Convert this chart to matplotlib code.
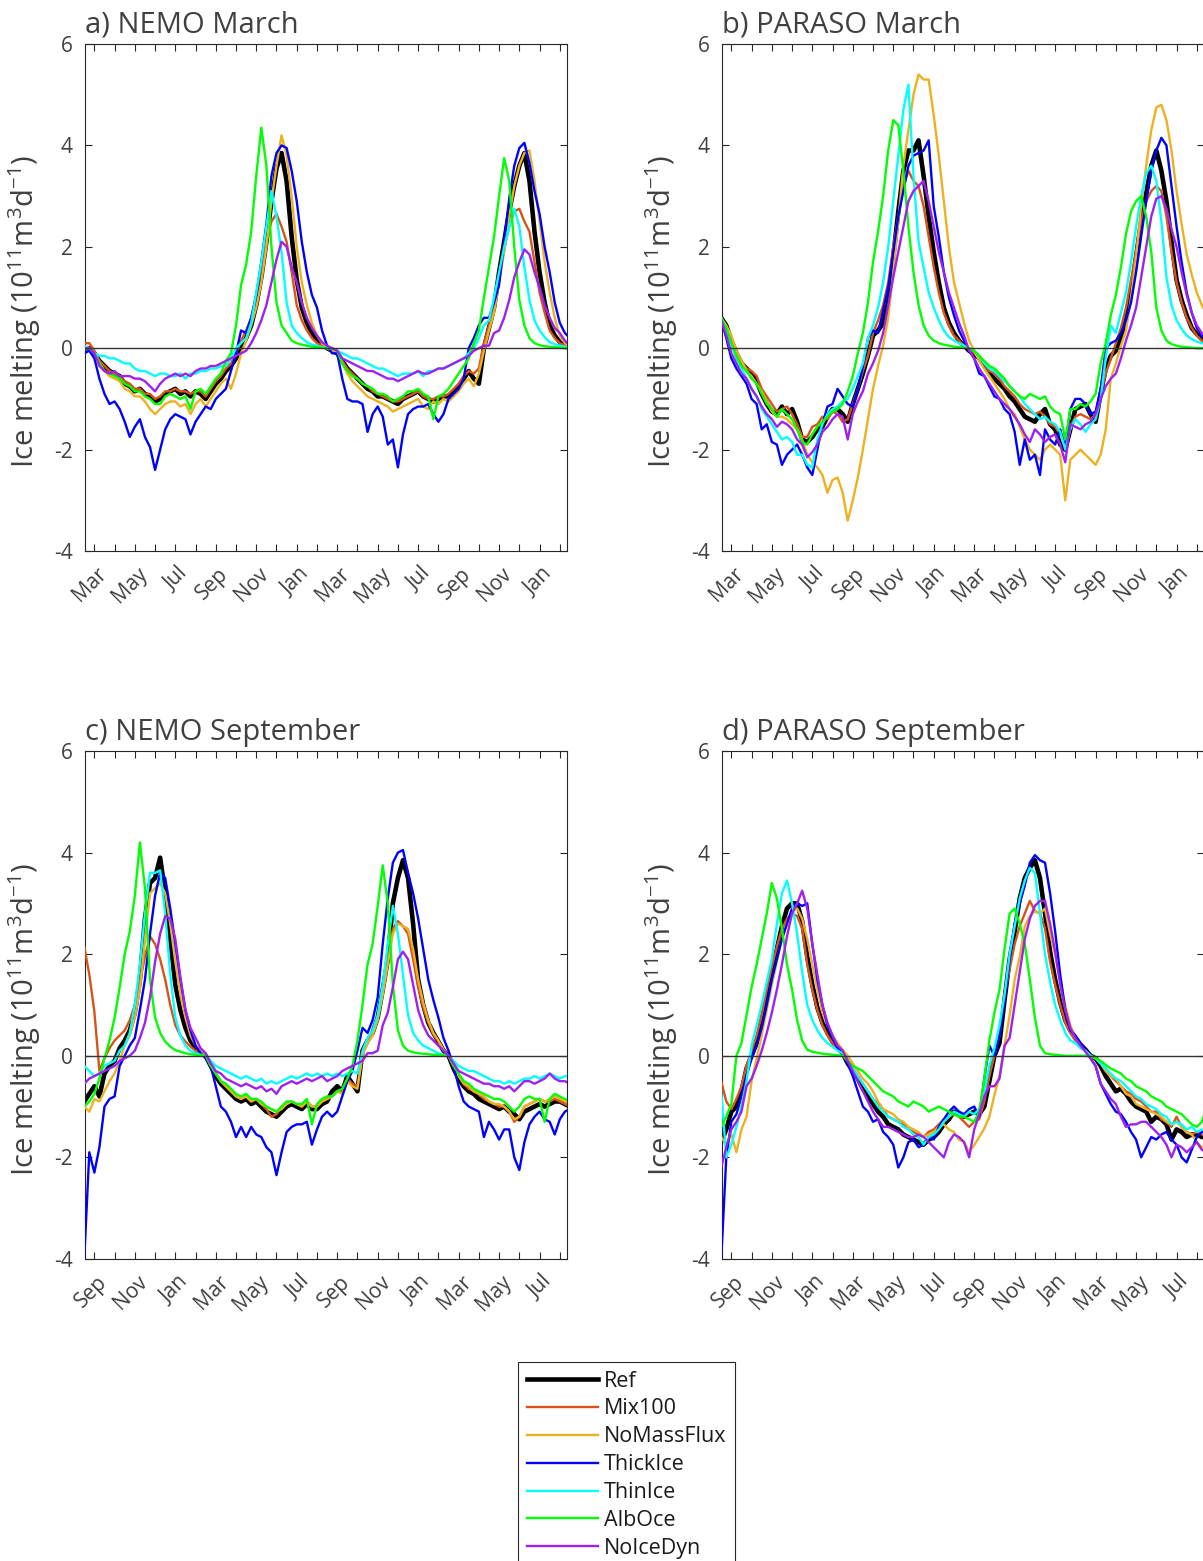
import numpy as np
import matplotlib.pyplot as plt
from matplotlib.transforms import ScaledTranslation

plt.rcParams['font.family'] = ['Open Sans', 'DejaVu Sans']
plt.rcParams['mathtext.default'] = 'regular'
plt.rcParams['axes.unicode_minus'] = False

runs = ["Ref", "Mix100", "NoMassFlux", "ThickIce", "ThinIce", "AlbOce", "NoIceDyn"]
colors = ["black", "#D95319", "#EDB120", "#0000FF", "#00FFFF", "#00FF00", "#A020F0"]
widths = [3.3, 1.7, 1.7, 1.7, 1.7, 1.7, 1.7]

march_labels = ["Mar", "May", "Jul", "Sep", "Nov", "Jan"] * 2
sept_labels = ["Sep", "Nov", "Jan", "Mar", "May", "Jul"] * 2

# values every quarter month, starting half a month before the first tick
# ---- a) NEMO March
a_ref = [0.0, 0.0, -0.1, -0.25, -0.35, -0.45, -0.5, -0.55, -0.7, -0.75, -0.85, -0.8, -0.9,
         -0.95, -1.05, -1.0, -0.9, -0.85, -0.8, -0.9, -0.85, -0.95, -0.85, -0.9, -1.0, -0.85,
         -0.7, -0.6, -0.45, -0.35, -0.2, 0.0, 0.2, 0.45, 0.85, 1.4, 2.1, 2.9, 3.55,
         3.85, 3.3, 2.2, 1.35, 0.8, 0.5, 0.3, 0.18, 0.08, 0.0,
         -0.05, -0.1, -0.25, -0.4, -0.5, -0.6, -0.7, -0.8, -0.85, -0.95, -0.95, -1.0,
         -1.05, -1.1, -1.0, -0.95, -0.9, -0.85, -0.95, -1.0, -1.05, -1.0, -0.95, -0.95,
         -0.85, -0.75, -0.6, -0.45, -0.6, -0.7, 0.0, 0.4, 0.8, 1.5, 2.1, 2.7,
         3.2, 3.6, 3.85, 3.3, 2.3, 1.5, 0.9, 0.45, 0.25, 0.12, 0.05, 0.0]
a_mix = [0.1, 0.1, -0.05, -0.25, -0.35, -0.45, -0.5, -0.55, -0.65, -0.7, -0.8, -0.8, -0.9,
         -0.9, -1.0, -0.95, -0.85, -0.85, -0.8, -0.85, -0.85, -0.9, -0.85, -0.85, -0.95, -0.8,
         -0.65, -0.55, -0.4, -0.3, -0.1, 0.15, 0.35, 0.6, 1.05, 1.6, 2.1, 2.5, 2.65,
         2.4, 2.1, 1.5, 0.85, 0.55, 0.35, 0.2, 0.1, 0.05, 0.0,
         -0.05, -0.1, -0.25, -0.4, -0.5, -0.6, -0.7, -0.75, -0.85, -0.9, -0.95, -1.0,
         -1.05, -1.05, -1.0, -0.95, -0.9, -0.85, -0.95, -1.0, -1.0, -0.95, -0.95, -0.9,
         -0.8, -0.7, -0.55, -0.45, -0.5, -0.4, 0.1, 0.45, 0.8, 1.4, 1.95, 2.4,
         2.7, 2.75, 2.5, 2.3, 1.7, 1.1, 0.7, 0.35, 0.2, 0.1, 0.05, 0.0]
a_nmf = [0.05, 0.0, -0.1, -0.3, -0.45, -0.55, -0.6, -0.65, -0.8, -0.85, -0.95, -0.95, -1.05,
         -1.2, -1.3, -1.2, -1.1, -1.05, -1.05, -1.15, -1.1, -1.3, -1.1, -1.0, -1.15, -1.0,
         -0.85, -0.7, -0.6, -0.8, -0.5, -0.1, 0.15, 0.45, 0.8, 1.3, 2.0, 2.9, 3.6,
         4.2, 3.8, 3.0, 2.0, 1.3, 0.85, 0.5, 0.25, 0.1, 0.0,
         -0.05, -0.1, -0.3, -0.5, -0.65, -0.75, -0.85, -0.95, -1.0, -1.05, -1.1, -1.15,
         -1.25, -1.2, -1.15, -1.1, -1.05, -1.0, -1.15, -1.2, -1.05, -1.1, -1.0, -1.05,
         -0.95, -0.85, -0.7, -0.6, -0.75, -0.5, -0.05, 0.35, 0.7, 1.3, 1.9, 2.6,
         3.2, 3.6, 3.85, 3.9, 3.3, 2.5, 1.7, 1.1, 0.6, 0.25, 0.1, 0.02]
a_thick = [-0.1, -0.05, -0.2, -0.6, -0.9, -1.1, -1.05, -1.2, -1.45, -1.75, -1.55, -1.4, -1.75,
           -1.95, -2.4, -2.0, -1.6, -1.4, -1.3, -1.35, -1.4, -1.7, -1.45, -1.3, -1.15, -1.2,
           -1.0, -0.9, -0.8, -0.45, -0.1, 0.35, 0.3, 0.6, 1.05, 1.7, 2.45, 3.4, 3.85,
           4.0, 3.95, 3.5, 2.9, 2.1, 1.5, 1.05, 0.8, 0.35, 0.05,
           -0.1, -0.1, -0.6, -1.0, -1.05, -1.05, -1.1, -1.65, -1.3, -1.15, -1.35, -1.9,
           -1.8, -2.35, -1.7, -1.3, -1.2, -1.15, -1.15, -1.1, -1.3, -1.45, -1.3, -1.0,
           -0.9, -0.8, -0.6, 0.0, 0.2, 0.45, 0.6, 0.6, 0.9, 1.25, 2.1, 2.95,
           3.6, 3.95, 4.05, 3.65, 3.1, 2.65, 2.0, 1.5, 0.9, 0.5, 0.3, 0.2]
a_thin = [0.05, 0.0, -0.1, -0.15, -0.15, -0.2, -0.2, -0.25, -0.3, -0.3, -0.4, -0.45, -0.45,
          -0.5, -0.55, -0.5, -0.5, -0.55, -0.55, -0.5, -0.6, -0.5, -0.5, -0.45, -0.45, -0.4,
          -0.4, -0.35, -0.35, -0.2, 0.0, 0.1, 0.2, 0.5, 1.1, 1.7, 2.4, 3.1, 2.6,
          1.9, 0.9, 0.45, 0.3, 0.2, 0.12, 0.07, 0.05, 0.02, 0.0,
          0.0, -0.05, -0.1, -0.15, -0.2, -0.2, -0.25, -0.3, -0.35, -0.4, -0.4, -0.45,
          -0.5, -0.55, -0.5, -0.5, -0.5, -0.45, -0.55, -0.45, -0.45, -0.4, -0.4, -0.35,
          -0.3, -0.25, -0.2, -0.1, 0.0, 0.2, 0.45, 0.55, 1.0, 1.5, 2.0, 2.4,
          2.75, 2.4, 1.6, 0.95, 0.55, 0.35, 0.22, 0.12, 0.08, 0.05, 0.03, 0.0]
a_alb = [0.0, 0.0, -0.1, -0.3, -0.45, -0.5, -0.55, -0.6, -0.7, -0.75, -0.85, -0.85, -0.95,
         -1.0, -1.1, -1.1, -0.95, -0.9, -0.95, -1.0, -0.95, -1.2, -0.85, -0.8, -0.9, -0.75,
         -0.6, -0.5, -0.25, -0.1, 0.45, 1.25, 1.65, 2.3, 3.4, 4.35, 3.6, 2.0, 0.9,
         0.45, 0.3, 0.15, 0.1, 0.07, 0.05, 0.03, 0.02, 0.01, 0.0,
         0.0, -0.05, -0.3, -0.45, -0.55, -0.6, -0.7, -0.75, -0.8, -0.9, -0.9, -0.95,
         -1.05, -1.0, -0.95, -0.85, -0.85, -0.8, -0.9, -0.95, -1.4, -0.95, -0.9, -0.8,
         -0.65, -0.5, -0.35, -0.2, 0.1, 0.35, 1.0, 1.6, 2.2, 3.0, 3.75, 3.3,
         2.0, 0.95, 0.45, 0.2, 0.1, 0.06, 0.04, 0.03, 0.02, 0.01, 0.0, 0.0]
a_nodyn = [0.0, 0.0, -0.1, -0.35, -0.45, -0.5, -0.45, -0.55, -0.55, -0.55, -0.6, -0.6, -0.65,
           -0.75, -0.85, -0.7, -0.6, -0.55, -0.5, -0.55, -0.5, -0.55, -0.45, -0.4, -0.4, -0.35,
           -0.35, -0.3, -0.25, -0.2, -0.15, -0.1, -0.05, 0.1, 0.3, 0.55, 0.85, 1.3, 1.75,
           2.1, 2.0, 1.6, 1.3, 0.9, 0.6, 0.4, 0.25, 0.12, 0.05,
           0.0, -0.05, -0.2, -0.25, -0.3, -0.35, -0.4, -0.45, -0.45, -0.5, -0.55, -0.6,
           -0.6, -0.65, -0.6, -0.55, -0.5, -0.45, -0.5, -0.5, -0.45, -0.4, -0.4, -0.35,
           -0.3, -0.25, -0.2, -0.15, -0.05, 0.0, 0.05, 0.05, 0.3, 0.35, 0.6, 0.95,
           1.4, 1.7, 1.95, 1.85, 1.5, 1.2, 0.85, 0.6, 0.4, 0.3, 0.15, 0.05]

# ---- b) PARASO March
b_ref = [0.6, 0.45, 0.15, -0.1, -0.3, -0.4, -0.5, -0.65, -0.9, -1.1, -1.25, -1.3, -1.15,
         -1.3, -1.2, -1.45, -1.8, -1.85, -1.75, -1.6, -1.55, -1.35, -1.2, -1.2, -1.3, -1.45,
         -1.1, -0.8, -0.5, -0.15, 0.25, 0.35, 0.5, 0.9, 1.8, 2.7, 3.5, 3.9, 3.9,
         4.1, 3.4, 2.6, 1.9, 1.3, 0.8, 0.5, 0.3, 0.15, 0.05,
         -0.05, -0.12, -0.2, -0.35, -0.5, -0.6, -0.7, -0.8, -0.95, -1.05, -1.2, -1.35,
         -1.4, -1.45, -1.3, -1.2, -1.5, -1.6, -1.9, -2.0, -1.6, -1.2, -1.15, -1.1,
         -1.3, -1.45, -0.9, -0.4, -0.15, -0.05, 0.2, 0.6, 1.1, 1.8, 2.5, 3.05,
         3.6, 3.9, 3.5, 2.9, 2.1, 1.35, 0.95, 0.65, 0.4, 0.28, 0.18, 0.1]
b_mix = [0.6, 0.4, 0.2, -0.05, -0.25, -0.4, -0.45, -0.55, -0.8, -0.95, -1.1, -1.25, -1.2,
         -1.15, -1.3, -1.5, -1.75, -1.75, -1.55, -1.5, -1.35, -1.4, -1.25, -1.3, -1.45, -1.4,
         -1.1, -0.8, -0.45, -0.15, 0.3, 0.55, 0.85, 1.3, 2.0, 2.6, 3.2, 3.5, 3.3,
         3.2, 2.8, 2.2, 1.6, 1.1, 0.7, 0.45, 0.25, 0.15, 0.05,
         0.0, -0.1, -0.2, -0.3, -0.45, -0.5, -0.6, -0.75, -0.85, -0.95, -1.1, -1.2,
         -1.25, -1.3, -1.25, -1.35, -1.5, -1.55, -1.7, -1.8, -1.55, -1.35, -1.3, -1.35,
         -1.4, -1.3, -0.9, -0.5, -0.2, 0.1, 0.4, 0.8, 1.35, 1.9, 2.5, 2.9,
         3.1, 3.2, 3.1, 2.6, 1.9, 1.3, 0.9, 0.6, 0.4, 0.25, 0.15, 0.1]
b_nmf = [0.6, 0.45, 0.25, -0.05, -0.25, -0.45, -0.55, -0.7, -0.85, -1.05, -1.25, -1.35, -1.35,
         -1.4, -1.5, -1.6, -1.8, -2.1, -2.25, -2.35, -2.5, -2.85, -2.6, -2.55, -2.85, -3.4,
         -3.0, -2.55, -2.0, -1.4, -0.8, -0.35, 0.05, 0.6, 1.5, 2.5, 3.6, 4.3, 5.0,
         5.4, 5.3, 5.3, 4.6, 3.8, 2.9, 2.0, 1.3, 0.9, 0.5,
         0.15, -0.05, -0.25, -0.4, -0.55, -0.7, -0.85, -1.0, -1.2, -1.3, -1.55, -1.8,
         -2.0, -2.1, -2.2, -2.0, -1.9, -2.0, -2.1, -3.0, -2.2, -2.1, -2.0, -2.1,
         -2.2, -2.3, -2.1, -1.6, -0.6, -0.3, 0.05, 0.35, 1.0, 1.8, 2.8, 3.6,
         4.3, 4.75, 4.8, 4.5, 3.9, 3.1, 2.45, 1.85, 1.45, 1.1, 0.85, 0.65]
b_thick = [0.55, 0.2, -0.2, -0.4, -0.55, -0.7, -1.0, -1.1, -1.6, -1.5, -1.85, -1.9, -2.3,
           -2.1, -2.0, -1.9, -2.1, -2.35, -2.5, -2.0, -1.5, -1.15, -1.1, -0.8, -0.95, -1.1,
           -1.15, -0.8, -0.35, 0.2, 0.35, 0.3, 0.75, 1.2, 1.9, 2.6, 3.1, 3.6, 3.8,
           3.85, 3.9, 4.1, 2.8, 2.2, 1.5, 1.0, 0.65, 0.35, 0.15,
           -0.05, -0.2, -0.5, -0.55, -0.75, -0.95, -1.0, -1.2, -1.3, -1.65, -2.3, -1.8,
           -2.2, -2.1, -2.5, -1.6, -1.8, -1.9, -1.6, -1.95, -1.2, -1.0, -1.0, -1.1,
           -1.3, -1.25, -0.8, 0.0, 0.1, 0.15, 0.3, 0.55, 0.9, 1.5, 2.2, 2.9,
           3.5, 3.9, 4.15, 4.0, 3.2, 2.4, 1.7, 1.1, 0.7, 0.4, 0.25, 0.15]
b_thin = [0.6, 0.35, 0.05, -0.2, -0.4, -0.6, -0.8, -0.95, -1.2, -1.35, -1.5, -1.65, -1.8,
          -1.75, -1.85, -2.1, -2.1, -2.3, -2.35, -1.8, -1.5, -1.3, -1.2, -1.15, -1.05, -1.0,
          -0.8, -0.55, -0.3, 0.2, 0.45, 0.8, 1.3, 2.0, 2.9, 3.8, 4.7, 5.2, 3.4,
          2.1, 1.6, 1.1, 0.8, 0.55, 0.35, 0.22, 0.15, 0.1, 0.05,
          0.0, -0.05, -0.15, -0.3, -0.4, -0.45, -0.55, -0.65, -0.75, -0.85, -0.95, -1.1,
          -1.2, -1.3, -1.4, -1.35, -1.45, -1.5, -1.65, -2.0, -1.6, -1.4, -1.5, -1.65,
          -1.5, -1.4, -1.0, -0.2, 0.45, 0.3, 0.7, 1.1, 1.7, 2.4, 3.0, 3.45,
          3.6, 3.3, 2.5, 1.4, 0.85, 0.55, 0.38, 0.25, 0.18, 0.13, 0.1, 0.08]
b_alb = [0.6, 0.4, 0.1, -0.15, -0.35, -0.45, -0.6, -0.7, -0.9, -1.1, -1.2, -1.35, -1.2,
         -1.3, -1.4, -1.6, -1.85, -1.9, -1.7, -1.55, -1.45, -1.35, -1.25, -1.2, -1.1, -0.85,
         -0.55, -0.1, 0.3, 0.9, 1.7, 2.3, 3.0, 3.9, 4.5, 4.4, 3.5, 2.4, 1.5,
         0.85, 0.45, 0.25, 0.15, 0.1, 0.07, 0.05, 0.03, 0.02, 0.01,
         0.0, -0.05, -0.15, -0.25, -0.35, -0.4, -0.5, -0.6, -0.75, -0.85, -0.95, -1.0,
         -0.9, -0.95, -1.0, -0.95, -1.15, -1.25, -1.3, -1.8, -1.2, -1.2, -1.1, -1.15,
         -1.05, -0.9, -0.3, 0.1, 0.65, 1.05, 1.6, 2.25, 2.7, 2.9, 3.0, 2.6,
         1.9, 0.8, 0.35, 0.15, 0.08, 0.05, 0.03, 0.02, 0.01, 0.0, 0.0, 0.0]
b_nodyn = [0.55, 0.25, -0.1, -0.3, -0.5, -0.6, -0.8, -0.95, -1.15, -1.3, -1.4, -1.55, -1.45,
           -1.5, -1.6, -1.8, -1.9, -2.15, -2.05, -1.9, -1.65, -1.55, -1.4, -1.3, -1.35, -1.8,
           -1.3, -1.05, -0.85, -0.5, -0.3, -0.05, 0.3, 0.85, 1.4, 1.9, 2.4, 2.9, 3.1,
           3.2, 3.3, 2.9, 2.4, 1.9, 1.5, 1.1, 0.8, 0.5, 0.25,
           -0.05, -0.2, -0.4, -0.55, -0.7, -0.85, -1.0, -1.1, -1.2, -1.35, -1.5, -1.7,
           -1.85, -1.6, -1.7, -1.85, -1.75, -1.7, -1.9, -2.25, -1.5, -1.55, -1.6, -1.5,
           -1.45, -1.3, -1.0, -0.75, -0.6, -0.5, -0.2, 0.15, 0.45, 0.8, 1.4, 2.0,
           2.6, 2.95, 3.0, 2.75, 2.35, 2.0, 1.5, 1.05, 0.7, 0.45, 0.3, 0.2]

# ---- c) NEMO September
c_ref = [-0.9, -0.75, -0.6, -0.8, -0.35, -0.2, -0.1, 0.15, 0.3, 0.5, 0.85, 1.5, 2.7,
         3.4, 3.5, 3.9, 3.2, 2.3, 1.4, 0.9, 0.55, 0.3, 0.15, 0.05, 0.0, -0.2,
         -0.4, -0.55, -0.65, -0.75, -0.85, -0.9, -0.85, -0.95, -0.9, -1.0, -1.1, -1.15, -1.2,
         -1.1, -1.0, -0.95, -1.0, -1.05, -0.95, -1.05, -1.05, -0.95, -0.9,
         -0.7, -0.6, -0.7, -0.4, -0.55, -0.7, 0.1, 0.3, 0.45, 0.75, 1.3, 1.9,
         3.0, 3.5, 3.85, 3.5, 2.6, 1.5, 1.0, 0.65, 0.45, 0.28, 0.1, 0.0,
         -0.25, -0.45, -0.6, -0.7, -0.75, -0.85, -0.9, -0.95, -1.0, -1.05, -1.0, -1.1,
         -1.15, -1.25, -1.1, -1.05, -1.0, -0.95, -1.0, -0.95, -0.9, -0.9, -0.95, -1.0]
c_mix = [2.15, 1.6, 0.87, -0.3, -0.05, 0.15, 0.3, 0.4, 0.5, 0.7, 1.0, 1.45, 1.95,
         2.35, 2.2, 1.9, 1.5, 1.0, 0.6, 0.4, 0.28, 0.18, 0.1, 0.05, 0.0, -0.2,
         -0.35, -0.5, -0.6, -0.7, -0.8, -0.85, -0.8, -0.9, -0.85, -0.95, -1.05, -1.2, -1.15,
         -1.0, -0.95, -0.9, -0.95, -1.0, -0.9, -1.0, -1.0, -0.9, -0.85,
         -0.8, -0.7, -0.7, -0.45, -0.55, -0.6, 0.05, 0.3, 0.45, 0.75, 1.3, 1.9,
         2.5, 2.65, 2.55, 2.4, 1.9, 1.35, 0.95, 0.65, 0.42, 0.28, 0.1, 0.0,
         -0.2, -0.4, -0.55, -0.65, -0.7, -0.75, -0.85, -0.9, -0.95, -1.0, -1.0, -1.1,
         -1.3, -1.2, -1.0, -0.95, -0.9, -0.85, -0.9, -0.9, -0.85, -0.9, -0.95, -1.0]
c_nmf = [-1.0, -1.1, -0.85, -0.9, -0.7, -0.5, -0.35, -0.1, 0.2, 0.4, 0.75, 1.3, 2.3,
         3.2, 3.3, 3.4, 3.2, 2.6, 1.85, 1.2, 0.75, 0.4, 0.2, 0.08, 0.0, -0.15,
         -0.35, -0.5, -0.6, -0.7, -0.8, -0.85, -0.8, -0.9, -0.85, -0.95, -1.0, -1.05, -1.1,
         -1.05, -0.95, -0.9, -0.95, -1.0, -0.9, -1.0, -1.0, -0.9, -0.85,
         -0.8, -0.7, -0.75, -0.5, -0.6, -0.65, 0.0, 0.25, 0.4, 0.7, 1.2, 1.8,
         2.4, 2.6, 2.55, 2.5, 2.1, 1.5, 1.05, 0.7, 0.45, 0.3, 0.12, 0.0,
         -0.2, -0.4, -0.55, -0.6, -0.7, -0.75, -0.8, -0.9, -0.95, -0.95, -1.0, -1.1,
         -1.25, -1.2, -1.0, -0.95, -0.9, -0.85, -0.9, -0.85, -0.8, -0.85, -0.9, -0.95]
c_thick = [-4.0, -1.9, -2.3, -1.8, -1.0, -0.85, -0.8, -0.2, 0.0, 0.2, 0.35, 0.9, 1.5,
           2.4, 3.15, 3.6, 3.5, 2.9, 2.2, 1.5, 0.9, 0.5, 0.2, 0.05, -0.05, -0.2,
           -0.6, -1.0, -1.1, -1.3, -1.6, -1.4, -1.6, -1.4, -1.55, -1.6, -1.8, -1.9, -2.35,
           -1.9, -1.5, -1.4, -1.35, -1.35, -1.3, -1.75, -1.45, -1.2, -1.1,
           -1.2, -1.1, -0.8, -0.5, -0.3, 0.1, 0.55, 0.45, 0.7, 1.15, 2.2, 3.1,
           3.8, 4.0, 4.05, 3.6, 3.2, 2.7, 2.1, 1.5, 1.1, 0.75, 0.35, 0.1,
           -0.2, -0.6, -0.9, -1.0, -1.05, -1.1, -1.6, -1.3, -1.45, -1.65, -1.45, -1.45,
           -2.0, -2.25, -1.7, -1.35, -1.2, -1.1, -1.25, -1.3, -1.55, -1.25, -1.1, -1.05]
c_thin = [-0.2, -0.3, -0.4, -0.35, -0.2, -0.15, -0.1, 0.1, 0.2, 0.45, 1.0, 1.8, 2.8,
          3.6, 3.6, 3.65, 2.8, 1.6, 0.75, 0.4, 0.2, 0.1, 0.05, 0.02, 0.0, -0.1,
          -0.2, -0.25, -0.3, -0.35, -0.4, -0.45, -0.4, -0.45, -0.5, -0.45, -0.55, -0.5, -0.55,
          -0.5, -0.45, -0.4, -0.45, -0.4, -0.35, -0.4, -0.35, -0.4, -0.35,
          -0.4, -0.35, -0.4, -0.35, -0.3, -0.35, 0.1, 0.35, 0.5, 0.8, 1.4, 2.2,
          2.95, 2.4, 1.6, 0.8, 0.45, 0.3, 0.2, 0.15, 0.1, 0.05, 0.02, 0.0,
          -0.1, -0.2, -0.25, -0.3, -0.3, -0.35, -0.4, -0.45, -0.5, -0.5, -0.55, -0.5,
          -0.55, -0.5, -0.45, -0.45, -0.4, -0.45, -0.4, -0.35, -0.4, -0.45, -0.4, -0.4]
c_alb = [-1.0, -0.9, -0.75, -0.45, -0.05, 0.3, 0.75, 1.35, 2.0, 2.45, 3.15, 4.2, 3.3,
         1.5, 0.75, 0.45, 0.28, 0.18, 0.11, 0.08, 0.05, 0.03, 0.02, 0.01, 0.0, -0.2,
         -0.35, -0.5, -0.55, -0.65, -0.75, -0.8, -0.75, -0.85, -0.85, -0.9, -1.0, -1.05, -1.1,
         -1.0, -0.9, -0.9, -0.95, -0.95, -0.85, -1.35, -0.95, -0.85, -0.8,
         -0.8, -0.7, -0.65, -0.45, -0.2, 0.3, 1.0, 1.8, 2.2, 2.95, 3.75, 3.0,
         1.4, 0.5, 0.2, 0.1, 0.07, 0.05, 0.04, 0.03, 0.02, 0.02, 0.01, 0.0,
         -0.2, -0.35, -0.5, -0.55, -0.65, -0.7, -0.75, -0.8, -0.85, -0.85, -0.9, -1.0,
         -1.1, -1.0, -0.85, -0.8, -0.85, -0.85, -1.3, -0.85, -0.75, -0.8, -0.85, -0.9]
c_nodyn = [-0.55, -0.45, -0.4, -0.35, -0.3, -0.25, -0.2, -0.1, -0.05, 0.0, 0.1, 0.35, 0.65,
           1.15, 1.85, 2.4, 2.75, 2.7, 2.3, 1.55, 0.9, 0.55, 0.35, 0.15, 0.05, -0.15,
           -0.3, -0.35, -0.45, -0.5, -0.55, -0.6, -0.55, -0.6, -0.65, -0.6, -0.7, -0.65, -0.75,
           -0.6, -0.55, -0.5, -0.55, -0.5, -0.45, -0.5, -0.45, -0.4, -0.5,
           -0.45, -0.4, -0.3, -0.25, -0.2, -0.15, -0.1, 0.05, 0.05, 0.1, 0.6, 0.85,
           1.35, 1.9, 2.05, 1.9, 1.4, 0.9, 0.6, 0.4, 0.3, 0.2, 0.1, 0.0,
           -0.15, -0.3, -0.35, -0.4, -0.45, -0.5, -0.55, -0.55, -0.6, -0.6, -0.65, -0.6,
           -0.7, -0.6, -0.5, -0.5, -0.55, -0.5, -0.45, -0.35, -0.45, -0.5, -0.5, -0.55]

# ---- d) PARASO September
d_ref = [-1.7, -1.45, -1.1, -1.0, -0.7, -0.25, 0.0, 0.25, 0.7, 1.2, 1.65, 2.1, 2.55,
         2.9, 3.0, 3.0, 2.65, 1.95, 1.4, 0.95, 0.65, 0.45, 0.28, 0.15, 0.05, -0.15,
         -0.3, -0.45, -0.65, -0.8, -0.95, -1.1, -1.2, -1.35, -1.4, -1.45, -1.55, -1.6, -1.65,
         -1.7, -1.75, -1.65, -1.6, -1.5, -1.35, -1.25, -1.1, -1.15, -1.2,
         -1.15, -1.1, -1.15, -1.0, -0.5, 0.0, 0.25, 1.1, 1.9, 2.45, 3.1, 3.5,
         3.7, 3.85, 3.5, 2.8, 2.05, 1.5, 1.05, 0.7, 0.5, 0.35, 0.22, 0.12,
         0.0, -0.05, -0.2, -0.4, -0.55, -0.7, -0.65, -0.75, -0.9, -1.0, -1.05, -1.1,
         -1.3, -1.2, -1.25, -1.35, -1.65, -1.45, -1.5, -1.6, -1.55, -1.55, -1.6, -1.6]
d_mix = [-0.5, -0.9, -1.05, -0.85, -0.6, -0.2, 0.1, 0.4, 0.8, 1.3, 1.75, 2.15, 2.5,
         2.7, 2.8, 2.75, 2.5, 1.8, 1.3, 0.9, 0.6, 0.4, 0.25, 0.12, 0.05, -0.1,
         -0.25, -0.4, -0.55, -0.7, -0.85, -0.95, -1.05, -1.2, -1.25, -1.3, -1.35, -1.45, -1.5,
         -1.55, -1.6, -1.5, -1.45, -1.35, -1.25, -1.2, -1.15, -1.2, -1.3,
         -1.4, -1.3, -1.25, -0.9, -0.4, 0.0, 0.4, 1.2, 1.7, 2.2, 2.55, 2.8,
         3.05, 2.85, 2.8, 2.5, 1.85, 1.4, 1.0, 0.65, 0.45, 0.3, 0.18, 0.1,
         0.0, -0.05, -0.15, -0.3, -0.4, -0.5, -0.6, -0.7, -0.75, -0.85, -0.9, -1.0,
         -1.1, -1.1, -1.25, -1.3, -1.4, -1.2, -1.4, -1.5, -1.55, -1.5, -1.55, -1.6]
d_nmf = [-1.6, -1.75, -1.55, -1.9, -1.45, -1.2, -0.5, -0.05, 0.4, 0.9, 1.4, 1.85, 2.3,
         2.6, 2.85, 2.9, 2.7, 2.3, 1.8, 1.3, 0.85, 0.6, 0.4, 0.25, 0.12, 0.0,
         -0.15, -0.3, -0.45, -0.55, -0.7, -0.9, -1.05, -1.1, -1.15, -1.25, -1.3, -1.4, -1.45,
         -1.5, -1.6, -1.55, -1.5, -1.4, -1.35, -1.45, -1.5, -1.65, -1.7,
         -1.9, -1.76, -1.6, -1.43, -1.2, -0.77, -0.4, 0.2, 0.8, 1.5, 1.95, 2.55,
         2.75, 2.85, 2.8, 2.9, 2.4, 2.0, 1.5, 1.0, 0.6, 0.35, 0.2, 0.1,
         0.0, -0.05, -0.15, -0.3, -0.4, -0.45, -0.6, -0.75, -0.8, -0.95, -1.0, -1.05,
         -1.1, -1.15, -1.2, -1.3, -1.35, -1.3, -1.4, -1.5, -1.55, -1.7, -1.8, -1.75]
d_thick = [-4.0, -2.0, -1.3, -1.15, -0.8, -0.4, -0.05, 0.2, 0.55, 1.0, 1.5, 1.9, 2.3,
           2.6, 2.9, 3.0, 2.95, 3.0, 2.2, 1.5, 1.0, 0.6, 0.35, 0.15, 0.05, -0.15,
           -0.4, -0.7, -1.0, -1.1, -1.3, -1.25, -1.5, -1.6, -1.75, -2.2, -2.0, -1.7, -1.65,
           -1.8, -1.75, -1.6, -1.65, -1.4, -1.25, -1.1, -1.0, -1.1, -1.15,
           -1.05, -1.0, -1.2, -0.45, 0.2, 0.0, 0.4, 1.1, 1.9, 2.6, 3.0, 3.35,
           3.8, 3.95, 3.85, 3.8, 3.2, 2.45, 1.6, 0.9, 0.5, 0.4, 0.25, 0.12,
           -0.05, -0.2, -0.55, -0.75, -0.95, -1.1, -1.15, -1.3, -1.5, -1.65, -2.0, -1.8,
           -1.6, -1.65, -1.55, -1.5, -1.65, -1.75, -2.0, -2.1, -1.85, -1.6, -1.5, -1.5]
d_thin = [-0.7, -2.0, -1.75, -1.4, -1.0, -0.5, 0.2, 0.6, 1.0, 1.45, 1.9, 2.6, 3.2,
          3.45, 3.0, 2.4, 1.65, 1.0, 0.7, 0.5, 0.35, 0.25, 0.18, 0.1, 0.05, -0.1,
          -0.25, -0.4, -0.55, -0.7, -0.85, -1.0, -1.1, -1.2, -1.25, -1.3, -1.4, -1.45, -1.55,
          -1.6, -1.75, -1.6, -1.55, -1.45, -1.3, -1.2, -1.1, -1.15, -1.2,
          -1.1, -1.15, -1.05, -0.7, -0.2, 0.15, 0.6, 1.2, 2.0, 2.55, 3.1, 3.45,
          3.7, 3.6, 2.8, 2.0, 1.45, 1.0, 0.7, 0.45, 0.3, 0.25, 0.15, 0.1,
          0.0, -0.05, -0.15, -0.25, -0.35, -0.45, -0.5, -0.6, -0.7, -0.8, -0.85, -0.95,
          -1.0, -1.05, -1.15, -1.2, -1.35, -1.3, -1.35, -1.45, -1.4, -1.5, -1.45, -1.5]
d_alb = [-1.4, -1.2, -0.95, 0.0, 0.25, 0.8, 1.35, 1.8, 2.3, 2.8, 3.4, 3.1, 2.5,
         1.8, 1.3, 0.7, 0.3, 0.12, 0.08, 0.06, 0.04, 0.03, 0.02, 0.01, 0.0, -0.1,
         -0.2, -0.25, -0.3, -0.4, -0.5, -0.6, -0.7, -0.75, -0.8, -0.9, -0.95, -1.0, -0.9,
         -0.95, -1.0, -1.1, -1.05, -1.0, -1.05, -1.1, -1.15, -1.2, -1.2,
         -1.25, -1.3, -1.1, -0.45, 0.3, 0.85, 1.3, 2.1, 2.8, 2.9, 2.6, 2.2,
         1.5, 0.75, 0.2, 0.05, 0.03, 0.02, 0.01, 0.0, 0.0, 0.0, 0.0, 0.0,
         -0.02, -0.05, -0.1, -0.18, -0.25, -0.3, -0.35, -0.45, -0.5, -0.6, -0.65, -0.7,
         -0.8, -0.85, -0.9, -1.0, -1.05, -1.1, -1.15, -1.25, -1.35, -1.4, -1.3, -1.0]
d_nodyn = [-2.2, -1.8, -1.45, -1.3, -1.1, -0.6, -0.45, -0.2, 0.1, 0.45, 0.85, 1.3, 1.8,
           2.35, 2.8, 3.0, 3.25, 2.9, 2.2, 1.6, 1.0, 0.65, 0.4, 0.2, 0.1, -0.1,
           -0.3, -0.5, -0.7, -0.9, -1.1, -1.25, -1.4, -1.4, -1.45, -1.5, -1.55, -1.6, -1.6,
           -1.55, -1.6, -1.7, -1.8, -1.9, -2.0, -1.7, -1.55, -1.6, -1.7,
           -2.0, -1.45, -1.15, -0.8, -0.6, -0.6, -0.45, 0.2, 0.35, 1.0, 1.65, 2.3,
           2.7, 2.95, 3.05, 3.05, 2.6, 2.05, 1.4, 0.9, 0.55, 0.35, 0.2, 0.08,
           -0.05, -0.2, -0.55, -0.7, -0.85, -0.95, -1.2, -1.4, -1.35, -1.35, -1.3, -1.3,
           -1.4, -1.5, -1.6, -1.75, -2.0, -1.75, -1.8, -1.9, -1.8, -1.7, -1.85, -1.9]

panels = [
    ("a) NEMO March", march_labels, [a_ref, a_mix, a_nmf, a_thick, a_thin, a_alb, a_nodyn]),
    ("b) PARASO March", march_labels, [b_ref, b_mix, b_nmf, b_thick, b_thin, b_alb, b_nodyn]),
    ("c) NEMO September", sept_labels, [c_ref, c_mix, c_nmf, c_thick, c_thin, c_alb, c_nodyn]),
    ("d) PARASO September", sept_labels, [d_ref, d_mix, d_nmf, d_thick, d_thin, d_alb, d_nodyn]),
]
boxes = [[0.0707, 0.647, 0.4007, 0.3248], [0.6002, 0.647, 0.4007, 0.3248],
         [0.0707, 0.1935, 0.4007, 0.3254], [0.6002, 0.1935, 0.4007, 0.3254]]

fig = plt.figure(figsize=(12.03, 15.61), dpi=100)
txt = '#404040'
handles = []
for (title, mlabels, series), box in zip(panels, boxes):
    ax = fig.add_axes(box)
    for k, vals in enumerate(series):
        t = -0.5 + 0.25 * np.arange(len(vals))
        ln, = ax.plot(t, vals, color=colors[k], lw=widths[k], zorder=2 + k)
        if len(handles) < len(runs):
            handles.append(ln)
    ax.axhline(0, color='#333333', lw=1.0, zorder=10)
    ax.set_xlim(-0.46, 23.36)
    ax.set_ylim(-4, 6)
    ax.set_yticks([-4, -2, 0, 2, 4, 6])
    ax.set_xticks(range(24))
    ax.set_xticklabels([mlabels[i // 2] if i % 2 == 0 else '' for i in range(24)])
    ax.tick_params(direction='in', top=True, right=True, length=5, width=0.8,
                   color='#262626', labelcolor=txt, labelsize=15)
    ax.tick_params(axis='x', pad=9)
    ax.tick_params(axis='y', pad=9)
    off = ScaledTranslation(0.02, 0, fig.dpi_scale_trans)
    for lab in ax.get_xticklabels():
        lab.set_rotation(45)
        lab.set_ha('right')
        lab.set_va('top')
        lab.set_rotation_mode('anchor')
        lab.set_transform(lab.get_transform() + off)
    for s in ax.spines.values():
        s.set_color('#262626')
        s.set_linewidth(0.8)
    ax.set_title(title, loc='left', fontsize=21, color=txt, pad=8)
    ax.set_ylabel('Ice melting (10$^{11}$m$^3$d$^{-1}$)', fontsize=21, color=txt)
    ax.yaxis.set_label_coords(-0.088, 0.472)

leg = fig.legend(handles, runs, loc='upper center', bbox_to_anchor=(0.5208, 0.1275),
                 fontsize=15.5, handlelength=3.3, handletextpad=0.3, labelspacing=0.32,
                 borderpad=0.4, borderaxespad=0, fancybox=False, framealpha=1,
                 edgecolor='#262626')
leg.get_frame().set_linewidth(0.8)
for tx in leg.get_texts():
    tx.set_color('#1a1a1a')

fig.savefig('out.png', dpi=100)
